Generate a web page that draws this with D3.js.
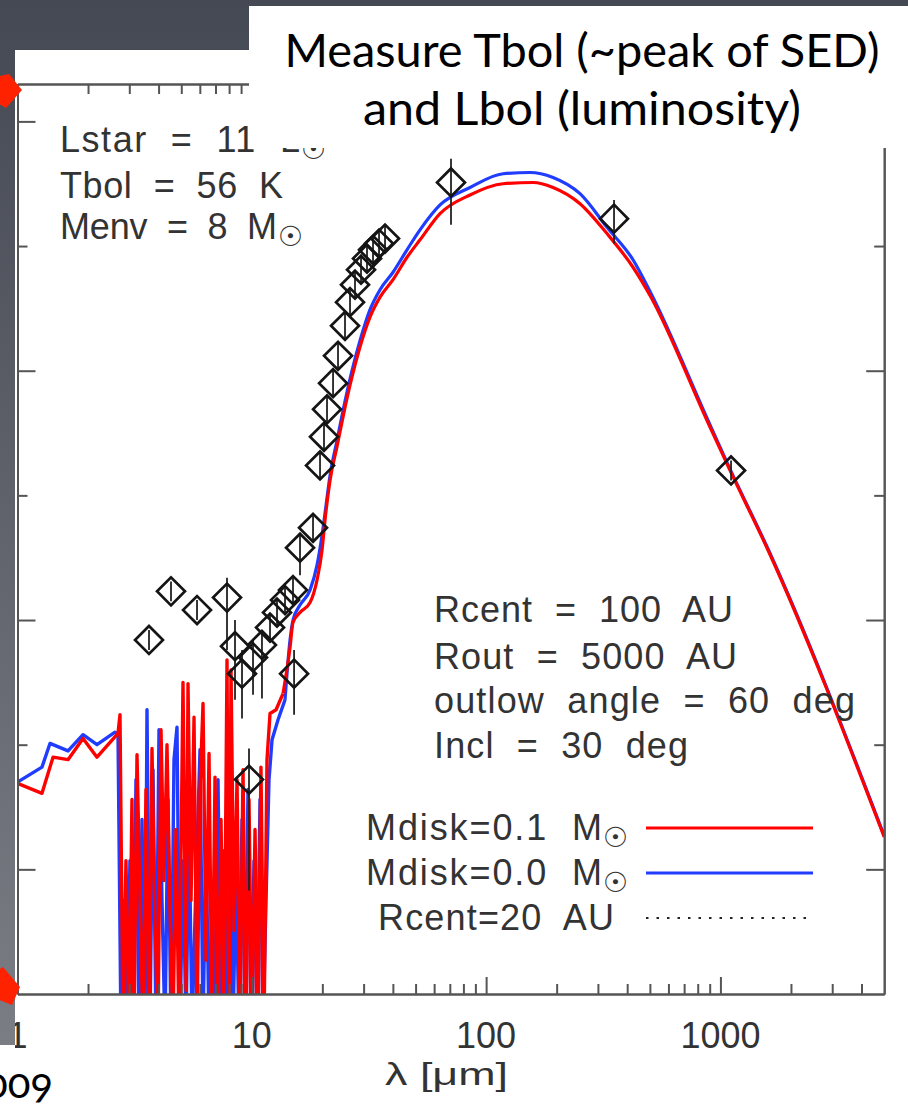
<!DOCTYPE html>
<html><head><meta charset="utf-8">
<script src="https://cdn.jsdelivr.net/npm/d3@7"></script>
<style>html,body{margin:0;padding:0;background:#fff;}svg{display:block}text.pre{white-space:pre}</style>
</head><body><svg id="c" width="908" height="1119"></svg>
<script>
// ---------------- data ----------------
const xTickVals = [1, 10, 100, 1000];
const xTickLabels = ["1", "10", "100", "1000"];
const yMajor = [-11, -9, -7, -5];
const yMinor = [-10, -8, -6];

// model Mdisk=0.1 (red)
const redNoiseLam = [1.00,1.272,1.418,1.643,1.904,2.184,2.685,2.738,2.820,2.904,2.991,3.080,3.141,3.236,3.333,3.432,3.535,3.641,3.750,3.862,3.977,4.097,4.219,4.345,4.476,4.609,4.747,4.889,5.085,5.240,5.342,5.503,5.667,5.837,6.011,6.191,6.376,6.567,6.763,6.965,7.174,7.388,7.609,7.837,7.993,8.152,8.396,8.647,8.905,9.172,9.446,9.728,10.02,10.32,10.63,10.94,11.27,11.61,11.96,12.69,13.59];
const redNoiseVal = [-10.31,-10.39,-10.10,-10.12,-9.95,-10.10,-9.91,-9.76,-12.3,-10.93,-12.3,-10.44,-12.3,-10.08,-11.25,-12.3,-10.36,-12.3,-10.03,-11.41,-12.3,-9.88,-11.09,-10.00,-11.33,-12.3,-10.68,-12.3,-9.50,-11.97,-9.51,-11.25,-9.78,-12.3,-10.36,-9.67,-11.73,-10.07,-12.3,-10.26,-12.3,-10.60,-12.3,-9.32,-12.3,-9.40,-11.49,-10.28,-12.3,-10.20,-12.3,-10.44,-12.3,-10.68,-12.3,-10.18,-12.3,-10.12,-9.75,-9.72,-9.59];
const redSmoothLam = [13.59,14.56,14.99,16.06,17.72,18.98,19.94,20.53,21.57,23.10,24.51,26.77,28.95,31.95,35.26,40.06,45.96,52.23,63.57,85.34,118.1,158.6,193.0,251.6,328.1,423.6,505.6,876.7,1099,1597,5000];
const redSmoothVal = [-9.59,-9.22,-9.02,-8.94,-8.86,-8.68,-8.44,-8.20,-7.88,-7.61,-7.37,-7.05,-6.81,-6.57,-6.41,-6.27,-6.09,-5.95,-5.74,-5.59,-5.50,-5.49,-5.53,-5.66,-5.90,-6.17,-6.41,-7.40,-7.80,-8.44,-10.74];

// model Mdisk=0.0 (blue)
const blueNoiseLam = [1.00,1.272,1.376,1.643,1.904,2.184,2.607,2.685,2.765,2.848,2.933,3.020,3.111,3.204,3.300,3.399,3.500,3.570,3.677,3.787,3.900,4.017,4.137,4.261,4.388,4.520,4.655,4.794,4.937,5.085,5.240,5.395,5.557,5.780,6.011,6.191,6.376,6.567,6.763,6.965,7.174,7.388,7.609,7.837,8.072,8.314,8.563,8.818,9.082,9.354,9.633,9.921,10.22,10.52,10.84,11.16,11.50,11.84,12.20,12.94,13.86];
const blueNoiseVal = [-10.30,-10.18,-9.99,-10.05,-9.92,-10.00,-9.90,-9.91,-12.3,-11.25,-12.3,-10.93,-12.3,-10.28,-12.3,-10.60,-12.3,-9.72,-12.3,-10.20,-12.3,-9.88,-11.25,-12.3,-10.44,-12.3,-10.12,-9.86,-12.3,-10.93,-12.3,-10.60,-12.3,-11.09,-10.04,-12.3,-10.76,-12.3,-11.25,-12.3,-10.28,-12.3,-10.85,-12.3,-10.44,-12.3,-11.01,-12.3,-10.60,-12.3,-10.36,-12.3,-10.93,-12.3,-10.44,-12.3,-11.25,-10.28,-9.96,-9.80,-9.64];
const blueSmoothLam = [13.86,14.56,14.99,16.06,17.72,18.98,19.94,20.74,21.57,23.10,24.51,26.77,28.95,31.95,35.26,40.06,45.96,52.23,63.57,85.34,118.1,153.9,193.0,251.6,328.1,423.6,505.6,876.7,1099,1597,5000];
const blueSmoothVal = [-9.64,-9.16,-9.00,-8.88,-8.76,-8.56,-8.32,-8.08,-7.84,-7.56,-7.32,-7.00,-6.76,-6.51,-6.35,-6.21,-6.03,-5.87,-5.67,-5.53,-5.42,-5.41,-5.45,-5.58,-5.85,-6.11,-6.38,-7.38,-7.79,-8.43,-10.73];

// observed photometry (diamonds)
const obsLam = [3.641,4.520,5.837,7.837,8.478,9.082,9.728,10.12,11.05,11.96,12.81,13.86,14.99,15.15,16.06,18.25,19.55,20.33,20.94,22.22,23.33,24.99,26.25,27.57,29.25,31.02,32.91,34.91,37.03,70.82,351.5,1110];
const obsVal = [-9.16,-8.77,-8.92,-8.82,-9.21,-9.43,-10.28,-9.30,-9.20,-9.06,-8.94,-8.84,-8.76,-9.43,-8.42,-8.26,-7.76,-7.53,-7.31,-7.10,-6.88,-6.64,-6.45,-6.31,-6.19,-6.10,-6.03,-5.98,-5.94,-5.49,-5.78,-7.80];
const obsErrUp = [0.08,0.08,0.08,0.16,0.21,0.19,0.25,0.14,0.10,0.10,0.10,0.10,0.10,0.19,0.10,0.10,0.10,0.10,0.10,0.10,0.10,0.10,0.10,0.10,0.10,0.10,0.10,0.10,0.10,0.19,0.15,0.08];
const obsErrDn = [0.08,0.08,0.08,0.42,0.43,0.36,0.89,0.30,0.43,0.10,0.10,0.10,0.10,0.33,0.22,0.10,0.10,0.10,0.10,0.10,0.10,0.10,0.10,0.10,0.10,0.10,0.10,0.10,0.10,0.34,0.20,0.08];

const paramsLeft = ["Lstar  =  11  L", "Tbol  =  56  K", "Menv  =  8  M"];
const paramsRight = ["Rcent  =  100  AU", "Rout  =  5000  AU", "outlow  angle  =  60  deg", "Incl  =  30  deg"];
const legendLabels = ["Mdisk=0.1  M", "Mdisk=0.0  M", "Rcent=20  AU"];
const titleLines = ["Measure Tbol (~peak of SED)", "and Lbol (luminosity)"];
const xLabel = "λ [μm]";
const footText = "2009";

// ---------------- drawing ----------------
const svg = d3.select("#c");
const defs = svg.append("defs");
const grad = defs.append("linearGradient").attr("id","bg").attr("x1",0).attr("y1",0).attr("x2",0).attr("y2",1);
grad.append("stop").attr("offset","0%").attr("stop-color","#454953");
grad.append("stop").attr("offset","100%").attr("stop-color","#7e8188");
svg.append("rect").attr("width",908).attr("height",1119).attr("fill","url(#bg)");
svg.append("rect").attr("x",0).attr("y",1045).attr("width",908).attr("height",74).attr("fill","#fff");

const panel = svg.append("g");
defs.append("clipPath").attr("id","panelClip").append("rect").attr("x",15).attr("y",50).attr("width",893).attr("height",1069);
panel.attr("clip-path","url(#panelClip)");
panel.append("rect").attr("x",15).attr("y",50).attr("width",893).attr("height",1069).attr("fill","#fff");

const L = 17.5, R = 884.2, T = 84, B = 994;
const x = d3.scaleLog().domain([1, 5000]).range([L, R]);
const y = d3.scaleLinear().domain([-12, -4.70]).range([B, T]);

defs.append("clipPath").attr("id","plotClip").append("rect").attr("x",L).attr("y",T).attr("width",R-L).attr("height",B-T);
const plot = panel.append("g").attr("clip-path","url(#plotClip)");

const lineLin = d3.line().x(d=>x(d[0])).y(d=>y(d[1])).curve(d3.curveLinear);
const lineSm = d3.line().x(d=>x(d[0])).y(d=>y(d[1])).curve(d3.curveMonotoneX);
const zip = (a,b)=>a.map((v,i)=>[v,b[i]]);

function drawSeries(nl, nv, sl, sv, color){
  plot.append("path").attr("d", lineLin(zip(nl,nv))).attr("fill","none").attr("stroke",color).attr("stroke-width",3.4).attr("stroke-linejoin","round");
  plot.append("path").attr("d", lineSm(zip(sl,sv))).attr("fill","none").attr("stroke",color).attr("stroke-width",3.2).attr("stroke-linejoin","round");
}
drawSeries(blueNoiseLam, blueNoiseVal, blueSmoothLam, blueSmoothVal, "#1f3cff");
drawSeries(redNoiseLam, redNoiseVal, redSmoothLam, redSmoothVal, "#ff0000");

// error bars + diamonds
const obs = obsLam.map((l,i)=>({l, v:obsVal[i], up:obsErrUp[i], dn:obsErrDn[i]}));
plot.selectAll(".eb").data(obs).enter().append("line")
  .attr("x1",d=>x(d.l)).attr("x2",d=>x(d.l))
  .attr("y1",d=>y(d.v+d.up)).attr("y2",d=>y(d.v-d.dn))
  .attr("stroke","#222").attr("stroke-width",1.8);
const diamond = d3.symbol().type(d3.symbolSquare).size(390);
plot.selectAll(".dm").data(obs).enter().append("path")
  .attr("d", diamond)
  .attr("transform", d=>`translate(${x(d.l)},${y(d.v)}) rotate(45)`)
  .attr("fill","none").attr("stroke","#151515").attr("stroke-width",2.7);

// axes
const axCol = "#555";
function styleAxis(g){
  g.selectAll("path.domain").attr("stroke",axCol).attr("stroke-width",2);
  g.selectAll(".tick line").attr("stroke",axCol).attr("stroke-width",2);
  g.selectAll("text").remove();
}
const minorX = [];
[1,10,100,1000].forEach(dec=>{for(let k=2;k<=9;k++){const v=dec*k; if(v<5000) minorX.push(v);}});
panel.append("g").attr("transform",`translate(0,${B})`).call(d3.axisTop(x).tickValues(xTickVals).tickSize(17).tickSizeOuter(0).tickFormat("")).call(styleAxis);
panel.append("g").attr("transform",`translate(0,${B})`).call(d3.axisTop(x).tickValues(minorX).tickSize(10).tickSizeOuter(0).tickFormat("")).call(styleAxis);
panel.append("g").attr("transform",`translate(0,${T})`).call(d3.axisBottom(x).tickValues(xTickVals).tickSize(17).tickSizeOuter(0).tickFormat("")).call(styleAxis);
panel.append("g").attr("transform",`translate(0,${T})`).call(d3.axisBottom(x).tickValues(minorX).tickSize(10).tickSizeOuter(0).tickFormat("")).call(styleAxis);
panel.append("g").attr("transform",`translate(${L},0)`).call(d3.axisRight(y).tickValues(yMajor).tickSize(18).tickSizeOuter(0).tickFormat("")).call(styleAxis);
panel.append("g").attr("transform",`translate(${L},0)`).call(d3.axisRight(y).tickValues(yMinor).tickSize(10).tickSizeOuter(0).tickFormat("")).call(styleAxis);
panel.append("g").attr("transform",`translate(${R},0)`).call(d3.axisLeft(y).tickValues(yMajor).tickSize(18).tickSizeOuter(0).tickFormat("")).call(styleAxis);
panel.append("g").attr("transform",`translate(${R},0)`).call(d3.axisLeft(y).tickValues(yMinor).tickSize(10).tickSizeOuter(0).tickFormat("")).call(styleAxis);

// tick labels
const idlFont = "'Liberation Sans', Arial, sans-serif";
const txtCol = "#333";
panel.selectAll(".xl").data(xTickVals).enter().append("text")
  .attr("x",d=>x(d)).attr("y",1048).attr("text-anchor","middle")
  .attr("font-family",idlFont).attr("font-size",36).attr("fill",txtCol)
  .text((d,i)=>xTickLabels[i]);
panel.append("text").attr("x",385).attr("y",1085).attr("font-family",idlFont).attr("font-size",32)
  .attr("fill",txtCol).attr("textLength",123).attr("lengthAdjust","spacingAndGlyphs").text(xLabel);

function idlText(str, x0, yb, w, sun){
  panel.append("text").attr("class","pre").attr("xml:space","preserve").attr("x",x0).attr("y",yb).attr("font-family",idlFont).attr("font-size",36)
    .attr("fill",txtCol).attr("textLength",w).attr("lengthAdjust","spacing").text(str);
  if(sun){
    panel.append("text").attr("x",x0+w+1).attr("y",yb+7).attr("font-family","'DejaVu Sans'").attr("font-size",28)
      .attr("fill",txtCol).text("\u2609");
  }
}
idlText(paramsLeft[0], 60, 152, 240, true);
idlText(paramsLeft[1], 60, 198, 223, false);
idlText(paramsLeft[2], 60, 239, 217, true);
idlText(paramsRight[0], 434, 622, 299, false);
idlText(paramsRight[1], 434, 669, 303, false);
idlText(paramsRight[2], 434, 713, 421, false);
idlText(paramsRight[3], 434, 758, 254, false);
idlText(legendLabels[0], 366, 840, 236, true);
idlText(legendLabels[1], 366, 885, 236, true);
idlText(legendLabels[2], 378, 930, 236, false);

// legend lines
panel.append("line").attr("x1",646).attr("x2",813).attr("y1",828).attr("y2",828).attr("stroke","#ff0000").attr("stroke-width",3);
panel.append("line").attr("x1",646).attr("x2",813).attr("y1",873).attr("y2",873).attr("stroke","#1f3cff").attr("stroke-width",3);
panel.append("line").attr("x1",646).attr("x2",813).attr("y1",918).attr("y2",918).attr("stroke","#222").attr("stroke-width",2).attr("stroke-dasharray","2.5,8");

// title box
svg.append("rect").attr("x",249).attr("y",6).attr("width",659).attr("height",142).attr("fill","#fff");
svg.append("text").attr("x",582).attr("y",67).attr("text-anchor","middle").attr("font-family","Lato, 'Open Sans', sans-serif")
  .attr("font-size",46).attr("fill","#000").attr("textLength",595).attr("lengthAdjust","spacingAndGlyphs").text(titleLines[0]);
svg.append("text").attr("x",582).attr("y",125).attr("text-anchor","middle").attr("font-family","Lato, 'Open Sans', sans-serif")
  .attr("font-size",46).attr("fill","#000").attr("textLength",438).attr("lengthAdjust","spacingAndGlyphs").text(titleLines[1]);

// footer text
svg.append("text").attr("x",53).attr("y",1098).attr("text-anchor","end").attr("font-family","Lato, sans-serif")
  .attr("font-size",42).attr("fill","#000").style("font-variant-numeric","oldstyle-nums").text(footText);

// slide handles
svg.append("polygon").attr("points","-8,78 9,74 22,90 6,108 -8,100").attr("fill","#ff2200");
svg.append("polygon").attr("points","-6,972 3,967 20,987 12,1005 -6,998").attr("fill","#ff2200");
</script></body></html>
